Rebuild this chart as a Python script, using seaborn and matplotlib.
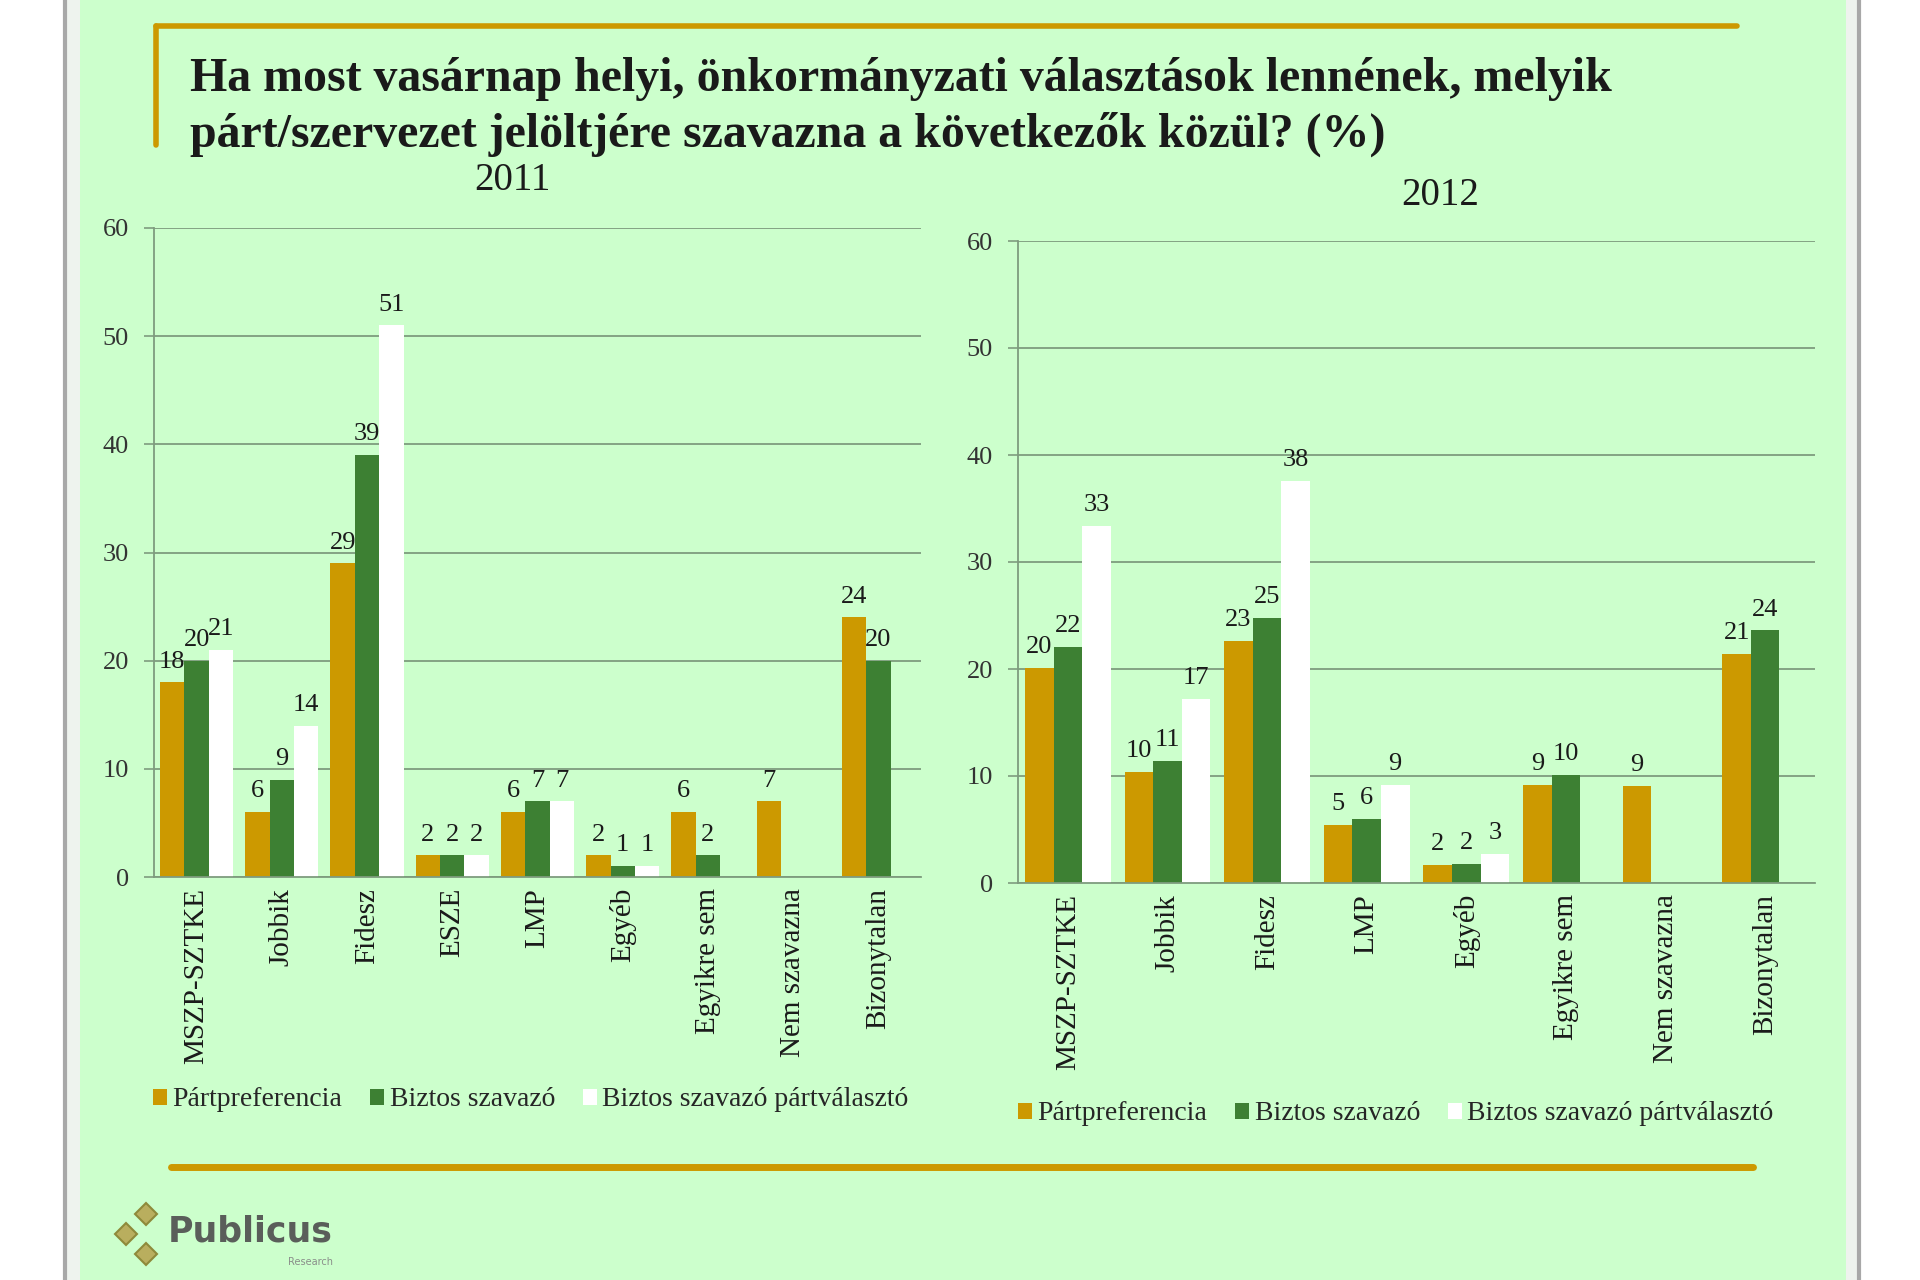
import matplotlib
matplotlib.use("Agg")
import matplotlib.pyplot as plt
from matplotlib.patches import Rectangle, Patch
from matplotlib.lines import Line2D
import seaborn as sns
import pandas as pd
import numpy as np

# ---------------- data ----------------
series = ["Pártpreferencia", "Biztos szavazó", "Biztos szavazó pártválasztó"]

cats_2011 = ["MSZP-SZTKE", "Jobbik", "Fidesz", "ESZE", "LMP", "Egyéb",
             "Egyikre sem", "Nem szavazna", "Bizonytalan"]
part_2011 = [18, 6, 29, 2, 6, 2, 6, 7, 24]
biztos_2011 = [20, 9, 39, 2, 7, 1, 2, np.nan, 20]
valaszto_2011 = [21, 14, 51, 2, 7, 1, np.nan, np.nan, np.nan]

cats_2012 = ["MSZP-SZTKE", "Jobbik", "Fidesz", "LMP", "Egyéb",
             "Egyikre sem", "Nem szavazna", "Bizonytalan"]
part_2012 = [20.1, 10.4, 22.6, 5.4, 1.7, 9.2, 9.1, 21.4]
biztos_2012 = [22.1, 11.4, 24.8, 6.0, 1.8, 10.1, np.nan, 23.6]
valaszto_2012 = [33.4, 17.2, 37.6, 9.2, 2.75, np.nan, np.nan, np.nan]

title_lines = ["Ha most vasárnap helyi, önkormányzati választások lennének, melyik",
               "párt/szervezet jelöltjére szavazna a következők közül? (%)"]
years = ["2011", "2012"]
yticks = [0, 10, 20, 30, 40, 50, 60]

# ---------------- style ----------------
GOLD = "#CC9900"
GREEN = "#3D8033"
WHITE = "#FFFFFF"
BG = "#CCFFCC"
GRID = "#7E9C7E"
TXT = "#1A1A1A"
SERIF = ["Liberation Serif", "DejaVu Serif"]
palette = dict(zip(series, [GOLD, GREEN, WHITE]))

sns.set_theme(style="white")
plt.rcParams["font.family"] = SERIF

W, H = 1920, 1280
fig = plt.figure(figsize=(19.2, 12.8), dpi=100)
fig.patch.set_facecolor("white")

def fx(px):
    return px / W

def fy(py):
    return 1 - py / H

# page background and borders
fig.patches.append(Rectangle((fx(67), 0), fx(1858) - fx(67), 1, transform=fig.transFigure,
                             facecolor="#EEF3EE", edgecolor="none", zorder=-10))
fig.patches.append(Rectangle((fx(80), 0), fx(1846) - fx(80), 1, transform=fig.transFigure,
                             facecolor=BG, edgecolor="none", zorder=-9))
fig.add_artist(Line2D([fx(65), fx(65)], [0, 1], color="#A8A8A8", lw=3, transform=fig.transFigure))
fig.add_artist(Line2D([fx(1859), fx(1859)], [0, 1], color="#A8A8A8", lw=3, transform=fig.transFigure))

# gold decorative lines
fig.add_artist(Line2D([fx(156), fx(1737)], [fy(26), fy(26)], color=GOLD, lw=4, transform=fig.transFigure))
fig.add_artist(Line2D([fx(156), fx(156)], [fy(26), fy(145)], color=GOLD, lw=4, transform=fig.transFigure))
fig.add_artist(Line2D([fx(171), fx(1753)], [fy(1167), fy(1167)], color=GOLD, lw=5, transform=fig.transFigure))

# title
fig.text(fx(190), fy(91), title_lines[0], fontsize=34.5, fontweight="bold", color=TXT,
         ha="left", va="baseline", family=SERIF)
fig.text(fx(190), fy(147), title_lines[1], fontsize=34.5, fontweight="bold", color=TXT,
         ha="left", va="baseline", family=SERIF)


def draw_panel(rect, cats, vals, year, year_xy, legend_y, legend_x):
    ax = fig.add_axes(rect, zorder=5)
    ax.set_facecolor("none")
    rows = []
    for s, v in zip(series, vals):
        for c, val in zip(cats, v):
            rows.append({"cat": c, "series": s, "val": val})
    df = pd.DataFrame(rows)
    sns.barplot(data=df, x="cat", y="val", hue="series", order=cats, hue_order=series,
                palette=palette, width=0.86, saturation=1, linewidth=0,
                errorbar=None, legend=False, ax=ax)
    for cont in ax.containers:
        ax.bar_label(cont, fmt="{:.0f}", padding=7, fontsize=19, color=TXT, family=SERIF)
    ax.set_ylim(0, 60)
    ax.set_xlim(-0.5, len(cats) - 0.5)
    ax.set_yticks(yticks)
    ax.set_yticklabels([str(t) for t in yticks], fontsize=19, color="#333333", family=SERIF)
    ax.set_xticks(range(len(cats)))
    ax.set_xticklabels(cats, rotation=90, fontsize=21, color=TXT, family=SERIF, va="top")
    ax.set_xticks(np.arange(-0.5, len(cats)), minor=True)
    ax.tick_params(axis="x", which="major", length=0, pad=8)
    ax.tick_params(axis="x", which="minor", length=8, width=1.2, color=GRID, direction="out")
    ax.tick_params(axis="y", length=7, width=1.2, color=GRID, direction="out", pad=11, left=True)
    ax.set_xlabel("")
    ax.set_ylabel("")
    ax.yaxis.grid(True, color=GRID, lw=1.3)
    ax.xaxis.grid(False)
    ax.set_axisbelow(True)
    for side in ["top", "right"]:
        ax.spines[side].set_visible(False)
    for side in ["left", "bottom"]:
        ax.spines[side].set_visible(True)
        ax.spines[side].set_color(GRID)
        ax.spines[side].set_linewidth(1.3)
    fig.text(fx(year_xy[0]), fy(year_xy[1]), year, fontsize=28, color=TXT,
             ha="center", va="baseline", family=SERIF)
    handles = [Patch(facecolor=palette[s], edgecolor="none", label=s) for s in series]
    fig.legend(handles=handles, loc="center left", bbox_to_anchor=(fx(legend_x), fy(legend_y)),
               ncol=3, frameon=False, handlelength=0.5, handleheight=0.5,
               handletextpad=0.2, columnspacing=1.0, borderpad=0, borderaxespad=0,
               prop={"family": SERIF, "size": 20})
    return ax


draw_panel([fx(154), fy(877), fx(921) - fx(154), fy(228) - fy(877)],
           cats_2011, [part_2011, biztos_2011, valaszto_2011], years[0], (512, 190), 1100, 153)
draw_panel([fx(1018), fy(883), fx(1815) - fx(1018), fy(241) - fy(883)],
           cats_2012, [part_2012, biztos_2012, valaszto_2012], years[1], (1440, 205), 1114, 1018)

# logo
for (px, py) in [(146, 1214), (126, 1234), (146, 1254)]:
    fig.add_artist(Line2D([fx(px)], [fy(py)], marker="D", markersize=11, color="#B9AE5E",
                          markeredgecolor="#8E8A3A", markeredgewidth=1.5, transform=fig.transFigure))
fig.text(fx(168), fy(1232), "Publicus", fontsize=25, fontweight="bold", color="#5A5E5A",
         ha="left", va="center", family=["DejaVu Sans"])
fig.text(fx(333), fy(1262), "Research", fontsize=7, color="#8A8E8A", ha="right", va="center",
         family=["DejaVu Sans"])

fig.savefig("out.png", dpi=100, facecolor=fig.get_facecolor())
